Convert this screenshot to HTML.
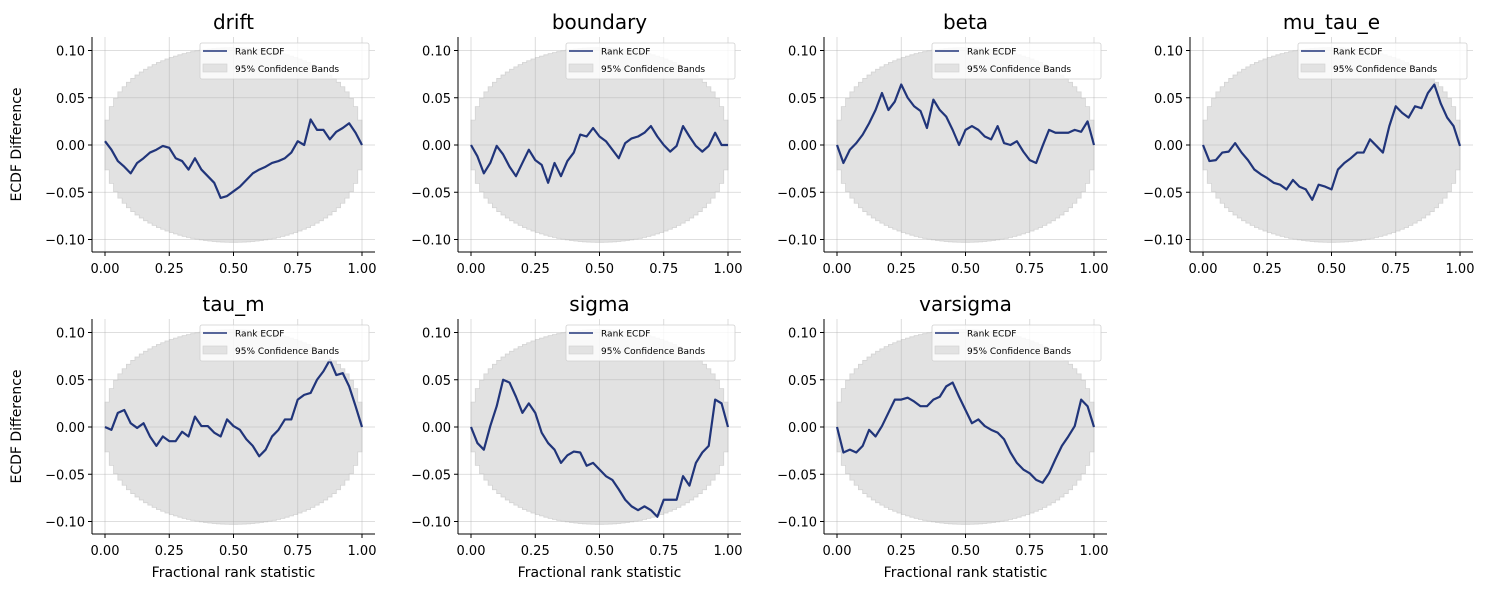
<!DOCTYPE html>
<html><head><meta charset="utf-8"><style>
body{margin:0;background:#fff;}
svg{display:block;font-family:"DejaVu Sans","Liberation Sans",sans-serif;}
</style></head><body>
<svg id="fig" width="1488" height="590" viewBox="0 0 1488 590" xmlns="http://www.w3.org/2000/svg"></svg>
<script>
const titles = ["drift","boundary","beta","mu_tau_e","tau_m","sigma","varsigma"];
const xTicks = [0,0.25,0.5,0.75,1];
const xTickLabels = ["0.00","0.25","0.50","0.75","1.00"];
const yTicks = [-0.10,-0.05,0,0.05,0.10];
const yTickLabels = ["\u22120.10","\u22120.05","0.00","0.05","0.10"];
const driftVals = [0.004,-0.005,-0.017,-0.023,-0.030,-0.019,-0.014,-0.008,-0.005,-0.001,-0.003,-0.014,-0.017,-0.026,-0.014,-0.026,-0.033,-0.040,-0.056,-0.054,-0.049,-0.044,-0.037,-0.030,-0.026,-0.023,-0.019,-0.017,-0.014,-0.008,0.004,0.000,0.027,0.016,0.016,0.006,0.014,0.018,0.023,0.013,0];
const boundaryVals = [0,-0.012,-0.030,-0.019,-0.001,-0.010,-0.023,-0.033,-0.019,-0.005,-0.016,-0.021,-0.040,-0.019,-0.033,-0.017,-0.008,0.011,0.009,0.018,0.009,0.004,-0.005,-0.014,0.002,0.007,0.009,0.013,0.020,0.009,0.000,-0.007,-0.001,0.020,0.009,-0.001,-0.007,-0.001,0.013,0.000,0];
const betaVals = [0,-0.019,-0.005,0.002,0.011,0.023,0.037,0.055,0.037,0.046,0.064,0.050,0.041,0.036,0.018,0.048,0.037,0.030,0.016,0.000,0.016,0.020,0.016,0.009,0.006,0.020,0.002,0.000,0.004,-0.007,-0.016,-0.019,-0.001,0.016,0.013,0.013,0.013,0.016,0.014,0.025,0];
const muTauEVals = [0,-0.017,-0.016,-0.008,-0.007,0.002,-0.008,-0.016,-0.026,-0.031,-0.035,-0.040,-0.042,-0.047,-0.037,-0.044,-0.047,-0.058,-0.042,-0.044,-0.047,-0.026,-0.019,-0.014,-0.008,-0.008,0.006,-0.001,-0.008,0.020,0.041,0.034,0.029,0.041,0.039,0.055,0.064,0.044,0.029,0.020,-0.001];
const tauMVals = [0,-0.003,0.015,0.018,0.004,-0.001,0.004,-0.010,-0.020,-0.010,-0.015,-0.015,-0.005,-0.010,0.011,0.001,0.001,-0.006,-0.010,0.008,0.001,-0.003,-0.013,-0.020,-0.031,-0.024,-0.010,-0.003,0.008,0.008,0.029,0.034,0.036,0.050,0.059,0.071,0.055,0.057,0.043,0.022,0];
const sigmaVals = [0,-0.017,-0.024,0.001,0.022,0.050,0.047,0.032,0.015,0.025,0.015,-0.006,-0.017,-0.024,-0.038,-0.030,-0.026,-0.027,-0.041,-0.038,-0.045,-0.052,-0.056,-0.066,-0.077,-0.084,-0.088,-0.084,-0.088,-0.095,-0.077,-0.077,-0.077,-0.052,-0.062,-0.038,-0.027,-0.020,0.029,0.025,0];
const varsigmaVals = [0,-0.027,-0.024,-0.027,-0.020,-0.003,-0.010,0.001,0.015,0.029,0.029,0.031,0.027,0.022,0.022,0.029,0.032,0.043,0.047,0.032,0.018,0.004,0.008,0.001,-0.003,-0.006,-0.013,-0.027,-0.038,-0.045,-0.049,-0.056,-0.059,-0.049,-0.034,-0.020,-0.010,0.001,0.029,0.022,0];
const allSeries = [driftVals,boundaryVals,betaVals,muTauEVals,tauMVals,sigmaVals,varsigmaVals];

const NS="http://www.w3.org/2000/svg";
const fig=document.getElementById('fig');
function mk(tag,attrs,parent){const e=document.createElementNS(NS,tag);for(const k in attrs)e.setAttribute(k,attrs[k]);(parent||fig).appendChild(e);return e;}

for(let i=0;i<7;i++){
  const c=i%4, r=Math.floor(i/4);
  const x0=105+366*c, zeroY=145+282*r;
  const L=92+366*c, R=375+366*c, T=37+282*r, B=252+282*r;
  const xs=v=>x0+257*v, ys=v=>zeroY-945*v;
  const g=mk('g',{});
  
  
  const N=60; let up=[],dn=[];
  for(let k=0;k<N;k++){
    const xa=k/N, xb=(k+1)/N, xm=(k+0.5)/N;
    const h=0.103*Math.pow(4*xm*(1-xm),0.4);
    up.push(xs(xa)+','+ys(h), xs(xb)+','+ys(h));
    dn.push(xs(xa)+','+ys(-h), xs(xb)+','+ys(-h));
  }
  const band=mk('polygon',{points:up.concat(dn.reverse()).join(' '),fill:'#e2e2e2',stroke:'#d4d4d4','stroke-width':0.8},g);
  
  
  xTicks.forEach(t=>mk('line',{x1:xs(t),x2:xs(t),y1:T,y2:B,stroke:'#b0b0b0','stroke-opacity':0.55,'stroke-width':0.8},g));
  yTicks.forEach(t=>mk('line',{x1:L,x2:R,y1:ys(t),y2:ys(t),stroke:'#b0b0b0','stroke-opacity':0.55,'stroke-width':0.8},g));
  const vals=allSeries[i];
  const pts=vals.map((v,k)=>xs(k/(vals.length-1))+','+ys(v)).join(' ');
  const ln=mk('polyline',{points:pts,fill:'none',stroke:'#21357a','stroke-width':2.2,'stroke-linejoin':'round'},g);
  
  
  mk('line',{x1:L,x2:L,y1:T,y2:B,stroke:'#000','stroke-width':1},g);
  mk('line',{x1:L,x2:R,y1:B,y2:B,stroke:'#000','stroke-width':1},g);
  xTicks.forEach((t,k)=>{
    mk('line',{x1:xs(t),x2:xs(t),y1:B,y2:B+4,stroke:'#000'},g);
    const tx=mk('text',{x:xs(t),y:B+21,'font-size':13,'text-anchor':'middle',fill:'#000'},g);tx.textContent=xTickLabels[k];
    
    
  });
  yTicks.forEach((t,k)=>{
    mk('line',{x1:L-4,x2:L,y1:ys(t),y2:ys(t),stroke:'#000'},g);
    const tx=mk('text',{x:L-7,y:ys(t)+5,'font-size':13,'text-anchor':'end',fill:'#000'},g);tx.textContent=yTickLabels[k];
    
    
  });
  const ti=mk('text',{x:(L+R)/2,y:T-8,'font-size':20,'text-anchor':'middle',fill:'#000'},g);ti.textContent=titles[i];
  
  
  const lg=mk('g',{},g);
  
  
  const lx=L+108, ly=T+6;
  mk('rect',{x:lx,y:ly,width:169,height:36,rx:2,fill:'#fff','fill-opacity':0.8,stroke:'#d0d0d0','stroke-width':0.8},lg);
  mk('line',{x1:lx+3,x2:lx+27,y1:ly+8,y2:ly+8,stroke:'#21357a','stroke-width':1.6},lg);
  const t1=mk('text',{x:lx+35,y:ly+11.5,'font-size':9,fill:'#000'},lg);t1.textContent='Rank ECDF';
  
  
  mk('rect',{x:lx+3,y:ly+21,width:24,height:8,fill:'#e2e2e2',stroke:'#d0d0d0','stroke-width':0.6},lg);
  const t2=mk('text',{x:lx+35,y:ly+29,'font-size':9,fill:'#000'},lg);t2.textContent='95% Confidence Bands';
  
  
  if(c===0){
    const yl=mk('text',{x:0,y:0,'font-size':14,'text-anchor':'middle',transform:'translate(21,'+((T+B)/2)+') rotate(-90)',fill:'#000'},g);yl.textContent='ECDF Difference';
    
    
  }
  if(r===1){
    const xl=mk('text',{x:(L+R)/2,y:577,'font-size':14,'text-anchor':'middle',fill:'#000'},g);xl.textContent='Fractional rank statistic';
    
    
  }
}
</script>
</body></html>
